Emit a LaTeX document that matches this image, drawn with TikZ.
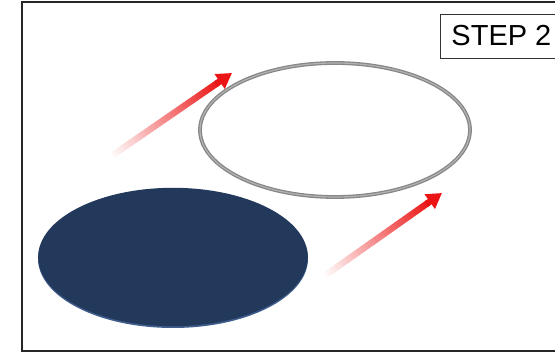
\documentclass[tikz,border=0pt]{standalone}
\usepackage{fontspec}
\setmainfont{Liberation Sans}
\usetikzlibrary{arrows.meta,calc}
\definecolor{discblue}{RGB}{35,57,92}
\definecolor{discrim}{RGB}{62,92,140}
\definecolor{ringgray}{RGB}{135,135,135}
\definecolor{arrowred}{RGB}{235,20,20}

\begin{document}
\begin{tikzpicture}[x=1pt,y=1pt,>=Latex,
    frame/.style={draw=black!85,line width=2pt},
    ring/.style={draw=ringgray,line width=3.8pt},
    stepbox/.style={draw=black!80,line width=0.9pt,anchor=west,minimum height=44pt,
      inner xsep=11pt,font=\fontsize{29}{31}\selectfont}]
  \useasboundingbox (0,0) rectangle (555,353);
  \clip (0,0) rectangle (555,353);
  \draw[frame] (22,2) rectangle (580,351);
  \node[stepbox] (step) at (440,317) {STEP 2};
  % ring and disc
  \draw[ring] (335,223) ellipse [x radius=135,y radius=67];
  \draw[black!30,line width=1.2pt] (335,223) ellipse [x radius=135,y radius=67];
  \fill[discrim] (173,94.5) ellipse [x radius=135,y radius=69.5];
  \fill[discblue] (173,96) ellipse [x radius=134.8,y radius=69.2];
  % arrows
  \coordinate (tailA) at (110,196);
  \coordinate (tipA) at (232,280);
  \coordinate (tailB) at (323,76);
  \coordinate (tipB) at (442,160);
  \foreach \a/\b in {tailA/tipA,tailB/tipB} {
    \foreach \i in {0,...,39}
      \draw[arrowred!\the\numexpr\i*5/2\relax!white,line width=6.5pt]
        ($(\a)!{\i/40*0.88}!(\b)$) -- ($(\a)!{(\i+1)/40*0.88+0.002}!(\b)$);
    \draw[arrowred,line width=6.5pt,-{Triangle[length=15pt,width=17pt]}]
      ($(\a)!0.87!(\b)$) -- (\b);
  }
\end{tikzpicture}
\end{document}
